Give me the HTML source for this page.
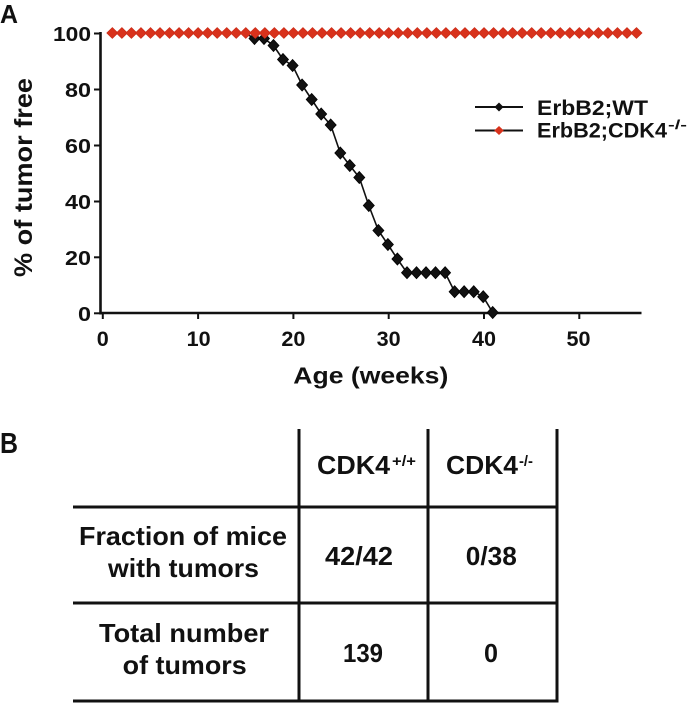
<!DOCTYPE html>
<html>
<head>
<meta charset="utf-8">
<style>
html,body{margin:0;padding:0;background:#fff;}
svg{display:block;}
text{font-family:"Liberation Sans",Arial,sans-serif;font-weight:bold;fill:#111;}
</style>
</head>
<body>
<svg width="693" height="721" viewBox="0 0 693 721" xmlns="http://www.w3.org/2000/svg">
<defs>
<polygon id="bd" points="0,-6 5.5,0 0,6 -5.5,0" fill="#111" stroke="#000" stroke-width="0.8"/>
<polygon id="rd" points="0,-5.5 5.6,0 0,5.5 -5.6,0" fill="#d8321c" stroke="#c92a16" stroke-width="0.6"/>
</defs>

<!-- Panel A label -->
<text x="0" y="23" font-size="26" textLength="18" lengthAdjust="spacingAndGlyphs">A</text>

<!-- Y axis title -->
<text transform="translate(32,177.5) rotate(-90)" text-anchor="middle" font-size="25" textLength="199" lengthAdjust="spacingAndGlyphs">% of tumor free</text>

<!-- Axes -->
<line x1="100.5" y1="32" x2="100.5" y2="314.5" stroke="#111" stroke-width="2.6"/>
<line x1="99.5" y1="313" x2="641.5" y2="313" stroke="#111" stroke-width="2.6"/>

<!-- Y ticks -->
<g stroke="#111" stroke-width="2">
<line x1="94" y1="33.5" x2="100" y2="33.5"/>
<line x1="94" y1="89.5" x2="100" y2="89.5"/>
<line x1="94" y1="145.5" x2="100" y2="145.5"/>
<line x1="94" y1="201.5" x2="100" y2="201.5"/>
<line x1="94" y1="257.3" x2="100" y2="257.3"/>
<line x1="94" y1="313.3" x2="100" y2="313.3"/>
</g>
<g font-size="20" text-anchor="end">
<text x="91" y="41" textLength="38" lengthAdjust="spacingAndGlyphs">100</text>
<text x="91" y="97" textLength="26" lengthAdjust="spacingAndGlyphs">80</text>
<text x="91" y="153" textLength="26" lengthAdjust="spacingAndGlyphs">60</text>
<text x="91" y="209" textLength="26" lengthAdjust="spacingAndGlyphs">40</text>
<text x="91" y="265" textLength="26" lengthAdjust="spacingAndGlyphs">20</text>
<text x="91" y="321" textLength="13" lengthAdjust="spacingAndGlyphs">0</text>
</g>

<!-- X ticks -->
<g stroke="#111" stroke-width="2">
<line x1="102.8" y1="313" x2="102.8" y2="319"/>
<line x1="198.1" y1="313" x2="198.1" y2="319"/>
<line x1="293.4" y1="313" x2="293.4" y2="319"/>
<line x1="388.7" y1="313" x2="388.7" y2="319"/>
<line x1="484" y1="313" x2="484" y2="319"/>
<line x1="579.3" y1="313" x2="579.3" y2="319"/>
</g>
<g font-size="21" text-anchor="middle">
<text x="102.8" y="346" textLength="12" lengthAdjust="spacingAndGlyphs">0</text>
<text x="198.6" y="346" textLength="24" lengthAdjust="spacingAndGlyphs">10</text>
<text x="293.4" y="346" textLength="24" lengthAdjust="spacingAndGlyphs">20</text>
<text x="388.7" y="346" textLength="24" lengthAdjust="spacingAndGlyphs">30</text>
<text x="484" y="346" textLength="24" lengthAdjust="spacingAndGlyphs">40</text>
<text x="578.5" y="346" textLength="24" lengthAdjust="spacingAndGlyphs">50</text>
</g>
<text x="293.3" y="383.5" font-size="23" textLength="155" lengthAdjust="spacingAndGlyphs">Age (weeks)</text>

<!-- Black series (ErbB2;WT) -->
<polyline fill="none" stroke="#111" stroke-width="1.6" points="245.7,33.5 254.5,38.5 264,38.5 273.5,45.5 283,59.5 292.6,65.5 302.1,85 311.7,99.5 321.2,114 330.7,125 340.3,153 349.8,165.5 359.3,177.5 368.8,205.5 378.4,230.5 387.9,244.5 397.4,259 407,272.7 416.5,272.7 426,272.7 435.5,272.7 445.1,272.7 454.6,291.7 464.1,291.7 473.7,291.7 483.2,296.7 492.7,312.5"/>
<g>
<use href="#bd" x="254.5" y="38.5"/>
<use href="#bd" x="264" y="38.5"/>
<use href="#bd" x="273.5" y="45.5"/>
<use href="#bd" x="283" y="59.5"/>
<use href="#bd" x="292.6" y="65.5"/>
<use href="#bd" x="302.1" y="85"/>
<use href="#bd" x="311.7" y="99.5"/>
<use href="#bd" x="321.2" y="114"/>
<use href="#bd" x="330.7" y="125"/>
<use href="#bd" x="340.3" y="153"/>
<use href="#bd" x="349.8" y="165.5"/>
<use href="#bd" x="359.3" y="177.5"/>
<use href="#bd" x="368.8" y="205.5"/>
<use href="#bd" x="378.4" y="230.5"/>
<use href="#bd" x="387.9" y="244.5"/>
<use href="#bd" x="397.4" y="259"/>
<use href="#bd" x="407" y="272.7"/>
<use href="#bd" x="416.5" y="272.7"/>
<use href="#bd" x="426" y="272.7"/>
<use href="#bd" x="435.5" y="272.7"/>
<use href="#bd" x="445.1" y="272.7"/>
<use href="#bd" x="454.6" y="291.7"/>
<use href="#bd" x="464.1" y="291.7"/>
<use href="#bd" x="473.7" y="291.7"/>
<use href="#bd" x="483.2" y="296.7"/>
<use href="#bd" x="492.7" y="312.5"/>
</g>

<!-- Red series (ErbB2;CDK4-/-) -->
<line x1="112.3" y1="33" x2="636.5" y2="33" stroke="#d8321c" stroke-width="1.6"/>
<g>
<use href="#rd" x="112.33" y="33"/><use href="#rd" x="121.86" y="33"/><use href="#rd" x="131.39" y="33"/><use href="#rd" x="140.92" y="33"/>
<use href="#rd" x="150.45" y="33"/><use href="#rd" x="159.98" y="33"/><use href="#rd" x="169.51" y="33"/><use href="#rd" x="179.04" y="33"/>
<use href="#rd" x="188.57" y="33"/><use href="#rd" x="198.1" y="33"/><use href="#rd" x="207.63" y="33"/><use href="#rd" x="217.16" y="33"/>
<use href="#rd" x="226.69" y="33"/><use href="#rd" x="236.22" y="33"/><use href="#rd" x="245.75" y="33"/><use href="#rd" x="255.28" y="33"/>
<use href="#rd" x="264.81" y="33"/><use href="#rd" x="274.34" y="33"/><use href="#rd" x="283.87" y="33"/><use href="#rd" x="293.4" y="33"/>
<use href="#rd" x="302.93" y="33"/><use href="#rd" x="312.46" y="33"/><use href="#rd" x="321.99" y="33"/><use href="#rd" x="331.52" y="33"/>
<use href="#rd" x="341.05" y="33"/><use href="#rd" x="350.58" y="33"/><use href="#rd" x="360.11" y="33"/><use href="#rd" x="369.64" y="33"/>
<use href="#rd" x="379.17" y="33"/><use href="#rd" x="388.7" y="33"/><use href="#rd" x="398.23" y="33"/><use href="#rd" x="407.76" y="33"/>
<use href="#rd" x="417.29" y="33"/><use href="#rd" x="426.82" y="33"/><use href="#rd" x="436.35" y="33"/><use href="#rd" x="445.88" y="33"/>
<use href="#rd" x="455.41" y="33"/><use href="#rd" x="464.94" y="33"/><use href="#rd" x="474.47" y="33"/><use href="#rd" x="484" y="33"/>
<use href="#rd" x="493.53" y="33"/><use href="#rd" x="503.06" y="33"/><use href="#rd" x="512.59" y="33"/><use href="#rd" x="522.12" y="33"/>
<use href="#rd" x="531.65" y="33"/><use href="#rd" x="541.18" y="33"/><use href="#rd" x="550.71" y="33"/><use href="#rd" x="560.24" y="33"/>
<use href="#rd" x="569.77" y="33"/><use href="#rd" x="579.3" y="33"/><use href="#rd" x="588.83" y="33"/><use href="#rd" x="598.36" y="33"/>
<use href="#rd" x="607.89" y="33"/><use href="#rd" x="617.42" y="33"/><use href="#rd" x="626.95" y="33"/><use href="#rd" x="636.48" y="33"/>
</g>

<!-- Legend -->
<line x1="475" y1="107" x2="523" y2="107" stroke="#111" stroke-width="2"/>
<polygon points="499,102.5 503.5,107 499,111.5 494.5,107" fill="#111"/>
<line x1="475" y1="130.5" x2="523" y2="130.5" stroke="#111" stroke-width="2"/>
<polygon points="499,126 503.8,130.5 499,135 494.2,130.5" fill="#d8321c"/>
<text x="537" y="115" font-size="21.5" textLength="111" lengthAdjust="spacingAndGlyphs">ErbB2;WT</text>
<text x="537" y="137.5" font-size="21.5" textLength="130" lengthAdjust="spacingAndGlyphs">ErbB2;CDK4</text>
<text x="668" y="129" font-size="13" textLength="19" lengthAdjust="spacingAndGlyphs">-/-</text>

<!-- Panel B -->
<text x="0" y="453" font-size="29" textLength="18" lengthAdjust="spacingAndGlyphs">B</text>

<g stroke="#111" stroke-width="3">
<line x1="299" y1="429" x2="299" y2="702"/>
<line x1="428" y1="429" x2="428" y2="702"/>
<line x1="557" y1="429" x2="557" y2="702"/>
<line x1="73" y1="507" x2="558.5" y2="507"/>
<line x1="73" y1="603" x2="558.5" y2="603"/>
<line x1="73" y1="701" x2="558.5" y2="701"/>
</g>

<text x="317" y="474" font-size="26" textLength="73" lengthAdjust="spacingAndGlyphs">CDK4</text>
<text x="392" y="466" font-size="15" textLength="24" lengthAdjust="spacingAndGlyphs">+/+</text>
<text x="446" y="474" font-size="26" textLength="72" lengthAdjust="spacingAndGlyphs">CDK4</text>
<text x="519" y="466" font-size="15" textLength="14" lengthAdjust="spacingAndGlyphs">-/-</text>

<g font-size="26" text-anchor="middle">
<text x="183" y="545" textLength="208" lengthAdjust="spacingAndGlyphs">Fraction of mice</text>
<text x="183.5" y="577" textLength="151" lengthAdjust="spacingAndGlyphs">with tumors</text>
<text x="184" y="642" textLength="170" lengthAdjust="spacingAndGlyphs">Total number</text>
<text x="184.7" y="674" textLength="124" lengthAdjust="spacingAndGlyphs">of tumors</text>
<text x="359" y="565" textLength="68" lengthAdjust="spacingAndGlyphs">42/42</text>
<text x="491.3" y="565" textLength="51" lengthAdjust="spacingAndGlyphs">0/38</text>
<text x="363" y="662" textLength="40" lengthAdjust="spacingAndGlyphs">139</text>
<text x="491" y="662" textLength="14" lengthAdjust="spacingAndGlyphs">0</text>
</g>
</svg>
</body>
</html>
